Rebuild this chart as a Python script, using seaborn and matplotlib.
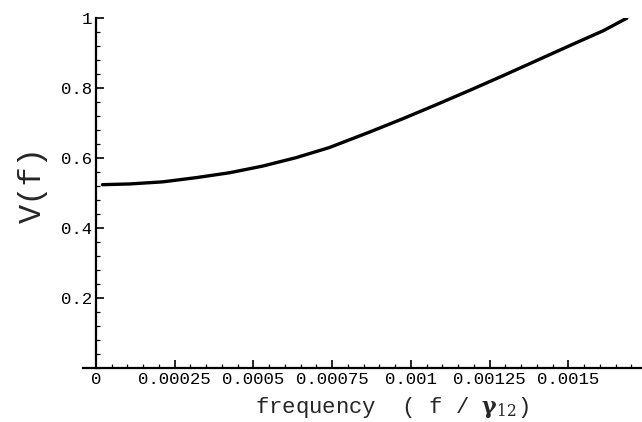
import matplotlib
matplotlib.use('Agg')
import matplotlib.pyplot as plt
import seaborn as sns
from matplotlib.ticker import FixedLocator, MultipleLocator

# values
freq = [0.000021, 0.000106, 0.000212, 0.000318, 0.000424, 0.000529, 0.000635,
        0.000741, 0.000868, 0.000976, 0.001082, 0.001188, 0.001294, 0.0014,
        0.001506, 0.001611, 0.001686]
visib = [0.524, 0.526, 0.532, 0.544, 0.558, 0.577, 0.601,
         0.630, 0.674, 0.713, 0.753, 0.794, 0.836, 0.879,
         0.922, 0.964, 1.0]

x_ticks = [0, 0.00025, 0.0005, 0.00075, 0.001, 0.00125, 0.0015]
x_labels = ['0', '0.00025', '0.0005', '0.00075', '0.001', '0.00125', '0.0015']
y_ticks = [0.2, 0.4, 0.6, 0.8, 1.0]
y_labels = ['0.2', '0.4', '0.6', '0.8', '1']

sns.set_style('white')
plt.rcParams['font.family'] = ['Liberation Mono', 'DejaVu Sans']
plt.rcParams['mathtext.fontset'] = 'dejavuserif'

fig = plt.figure(figsize=(6.42, 4.22), dpi=100)
ax = fig.add_axes([0.129, 0.128, 0.871, 0.829])

sns.lineplot(x=freq, y=visib, color='black', linewidth=2.4, ax=ax)

ax.set_xlim(-0.0000413, 0.001734)
ax.set_ylim(0, 1)

# Mathematica-like axes crossing at the origin
ax.spines['left'].set_position(('data', 0))
ax.spines['top'].set_visible(False)
ax.spines['right'].set_visible(False)
for s in ['left', 'bottom']:
    ax.spines[s].set_linewidth(1.6)
    ax.spines[s].set_color('black')

ax.xaxis.set_major_locator(FixedLocator(x_ticks))
ax.set_xticklabels(x_labels)
ax.xaxis.set_minor_locator(MultipleLocator(0.00005))
ax.yaxis.set_major_locator(FixedLocator(y_ticks))
ax.set_yticklabels(y_labels)
ax.yaxis.set_minor_locator(MultipleLocator(0.04))

ax.tick_params(which='both', bottom=True, left=True, direction='in', colors='black')
ax.tick_params(which='major', length=6, width=1.2, labelsize=12.5, pad=3)
ax.tick_params(which='minor', length=3, width=0.9)

ax.set_xlabel(r'frequency  ( f / $\mathbf{\gamma}_{12}$)', fontsize=16)
ax.xaxis.set_label_coords(0.308, -0.129)
ax.xaxis.label.set_ha('left')
ax.xaxis.label.set_va('baseline')

ax.set_ylabel('V(f)', fontsize=23)
ax.yaxis.set_label_coords(-0.0894, 0.524)
ax.yaxis.label.set_va('center')

fig.savefig('out.png', dpi=100)
